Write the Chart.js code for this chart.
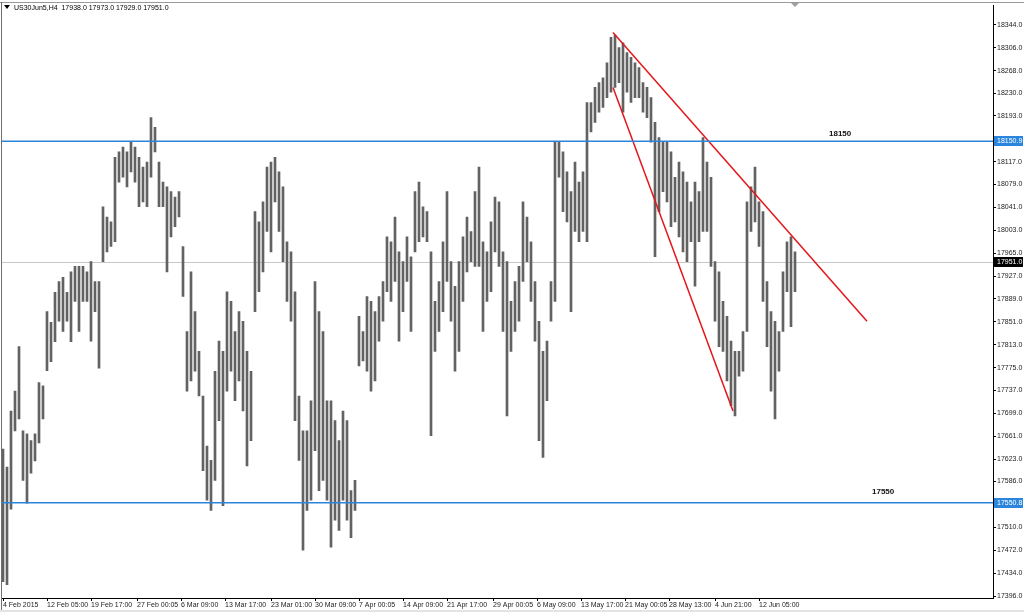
<!DOCTYPE html>
<html>
<head>
<meta charset="utf-8">
<script src="https://cdn.jsdelivr.net/npm/chart.js@4.4.1/dist/chart.umd.min.js"></script>
<style>
  html, body { margin: 0; padding: 0; background: #fff; }
  #wrap { width: 1024px; height: 612px; position: relative; }
</style>
</head>
<body>
<div id="wrap"><canvas id="priceChart" width="1024" height="612"></canvas></div>
<script>
"use strict";

// US30 H4 bars, high / low per bar
var highs = [
  17640, 17610, 17703, 17736, 17810, 17670, 17665, 17654, 17665, 17750,
  17745, 17868, 17850, 17900, 17918, 17925, 17900, 17934, 17943, 17943,
  17943, 17934, 17951, 17918, 17918, 18042, 18025, 18017, 18124, 18133,
  18141, 18133, 18149, 18141, 18124, 18108, 18116, 18190, 18174, 18116,
  18083, 18075, 18067, 18058, 18067, 17976, 17835, 17934, 17868, 17802,
  17728, 17645, 17621, 17769, 17819, 17802, 17901, 17885, 17835, 17868,
  17852, 17802, 17769, 18034, 18017, 18050, 18108, 18116, 18124, 18100,
  18075, 17984, 17967, 17901, 17728, 17670, 17670, 17720, 17918, 17868,
  17835, 17720, 17720, 17687, 17654, 17703, 17687, 17571, 17588, 17860,
  17835, 17893, 17885, 17868, 17893, 17918, 17992, 17984, 18025, 17967,
  17951, 17992, 17959, 18067, 18083, 18042, 18034, 17967, 17885, 17918,
  17984, 18067, 17951, 17910, 17951, 17992, 18025, 18001, 18067, 18108,
  17984, 17967, 18017, 18058, 18050, 17967, 17951, 17885, 17918, 17943,
  18050, 18025, 17984, 17918, 17852, 17802, 17819, 17918, 18149, 18149,
  18133, 18100, 18067, 18116, 18083, 18100, 18215, 18215, 18240, 18248,
  18256, 18281, 18323, 18327, 18306, 18314, 18298, 18290, 18281, 18273,
  18248, 18240, 18223, 18182, 18157, 18149, 18149, 18133, 18091, 18116,
  18100, 18083, 18050, 18083, 18067, 18157, 18116, 18091, 17951, 17934,
  17885, 17860, 17819, 17802, 17802, 17835, 18050, 18075, 18108, 18050,
  18034, 17918, 17868, 17852, 17835, 17934, 17984, 17992, 17967
];
var lows = [
  17420, 17415, 17540, 17670, 17690, 17588, 17550, 17600, 17620, 17650,
  17690, 17770, 17785, 17818, 17852, 17835, 17852, 17818, 17885, 17835,
  17885, 17885, 17819, 17868, 17774, 17951, 17967, 17976, 17984, 18083,
  18091, 18075, 18100, 18083, 18042, 18050, 18042, 18091, 18133, 18042,
  18042, 17934, 17992, 18009, 18025, 17893, 17736, 17753, 17769, 17728,
  17604, 17555, 17538, 17588, 17687, 17546, 17736, 17769, 17720, 17753,
  17703, 17612, 17654, 17868, 17901, 17934, 18001, 17967, 18050, 18001,
  17951, 17885, 17852, 17687, 17621, 17472, 17538, 17555, 17637, 17571,
  17588, 17555, 17477, 17522, 17505, 17555, 17522, 17493, 17538, 17778,
  17786, 17769, 17736, 17753, 17819, 17852, 17901, 17885, 17918, 17819,
  17868, 17918, 17835, 17967, 17984, 17992, 17984, 17662, 17802, 17835,
  17868, 17918, 17852, 17769, 17802, 17885, 17934, 17951, 17943, 17943,
  17835, 17885, 17901, 17967, 17943, 17835, 17695, 17802, 17835, 17852,
  17918, 17951, 17885, 17819, 17654, 17626, 17720, 17852, 17885, 18091,
  18034, 18017, 17868, 18001, 17984, 18001, 17984, 18166, 18182, 18199,
  18207, 18223, 18232, 18240, 18248, 18199, 18232, 18215, 18223, 18223,
  18199, 18190, 18149, 17959, 18034, 18067, 18050, 18009, 18017, 17992,
  17967, 17951, 17984, 17910, 17984, 18001, 18001, 17943, 17852, 17810,
  17802, 17753, 17712, 17695, 17761, 17769, 17835, 18001, 18017, 17976,
  17885, 17810, 17736, 17690, 17769, 17835, 17901, 17843, 17901
];

// time axis labels and the bar index they sit on
var xLabels = [ "4 Feb 2015", "12 Feb 05:00", "19 Feb 17:00", "27 Feb 00:05", "6 Mar 09:00",
  "13 Mar 17:00", "23 Mar 01:00", "30 Mar 09:00", "7 Apr 00:05", "14 Apr 09:00",
  "21 Apr 17:00", "29 Apr 00:05", "6 May 09:00", "13 May 17:00", "21 May 00:05",
  "28 May 13:00", "4 Jun 21:00", "12 Jun 05:00" ];
var xLabelIdx = [ 0, 11, 22, 33.5, 44.5, 55.5, 67, 78, 89, 100, 111, 122.5, 133.5, 144.5, 155.5, 166.5, 178, 189 ];

var yTicks = [ 18344, 18306, 18268, 18230, 18193, 18117, 18079, 18041, 18003, 17965, 17927,
  17889, 17851, 17813, 17775, 17737, 17699, 17661, 17623, 17586, 17510, 17472, 17434, 17396 ];

var lastQuote = [ 17938.0, 17973.0, 17929.0, 17951.0 ]; // O H L C
var resistance = 18150.9;
var support = 17550.8;
var upperTrend = [ { x: 152.5, y: 18331 }, { x: 216, y: 17852 } ];
var lowerTrend = [ { x: 152.5, y: 18240 }, { x: 182.5, y: 17703 } ];

var FONT = '"Liberation Sans", Arial, sans-serif';
var BLUE = '#2a86dc';

var mtOverlay = {
    id: 'mtOverlay',
    beforeDatasetsDraw: function ( chart ) {
        var c = chart.ctx, a = chart.chartArea, y = chart.scales.y;
        var py = Math.round( y.getPixelForValue( lastQuote[3] ) ) + 0.5;
        c.save();
        c.strokeStyle = '#c8c8c8';
        c.lineWidth = 1;
        c.beginPath(); c.moveTo( a.left, py ); c.lineTo( a.right, py ); c.stroke();
        c.restore();
    },
    afterDatasetsDraw: function ( chart ) {
        var c = chart.ctx, a = chart.chartArea, y = chart.scales.y;
        c.save();
        c.strokeStyle = BLUE;
        c.lineWidth = 1.5;
        [ resistance, support ].forEach( function ( v ) {
            var py = y.getPixelForValue( v );
            c.beginPath(); c.moveTo( a.left, py ); c.lineTo( a.right, py ); c.stroke();
        });
        c.fillStyle = '#111';
        c.font = 'bold 8px ' + FONT;
        c.textBaseline = 'middle';
        c.fillText( '18150', 829, y.getPixelForValue( resistance ) - 7 );
        c.fillText( '17550', 872, y.getPixelForValue( support ) - 11 );
        c.restore();
    },
    afterDraw: function ( chart ) {
        var c = chart.ctx, a = chart.chartArea, y = chart.scales.y;
        c.save();
        // price boxes on the axis
        c.font = '7px ' + FONT;
        c.textBaseline = 'middle';
        [ [ resistance, BLUE ], [ support, BLUE ], [ lastQuote[3], '#000' ] ].forEach( function ( b ) {
            var py = Math.round( y.getPixelForValue( b[0] ) );
            c.fillStyle = b[1];
            c.fillRect( a.right + 1, py - 5, 29, 10 );
            c.fillStyle = '#fff';
            c.fillText( b[0].toFixed( 1 ), a.right + 4, py );
        });
        // header
        c.fillStyle = '#000';
        c.beginPath(); c.moveTo( 4, 5 ); c.lineTo( 10, 5 ); c.lineTo( 7, 9 ); c.closePath(); c.fill();
        c.font = '7px ' + FONT;
        c.fillText( 'US30Jun5,H4  ' + lastQuote.map( function ( v ) { return v.toFixed( 1 ); } ).join( ' ' ), 14, 8 );
        // shift marker
        c.fillStyle = '#a0a0a0';
        c.beginPath(); c.moveTo( 791, 3 ); c.lineTo( 799, 3 ); c.lineTo( 795, 7 ); c.closePath(); c.fill();
        // window frame
        c.strokeStyle = '#9a9a9a';
        c.lineWidth = 1;
        c.beginPath(); c.moveTo( 0, 2.5 ); c.lineTo( 1024, 2.5 ); c.stroke();
        c.strokeStyle = '#707070';
        c.beginPath(); c.moveTo( 1.5, 2 ); c.lineTo( 1.5, 612 ); c.stroke();
        c.fillStyle = '#e4e4e4';
        c.fillRect( 0, 610, 1024, 2 );
        c.restore();
    }
};

var ctx = document.getElementById( "priceChart" );
var priceChart = new Chart( ctx, {
    type: 'bar',
    data: {
        datasets: [
            {
                type: 'line',
                data: upperTrend,
                borderColor: '#e3171b',
                borderWidth: 1.5,
                pointRadius: 0,
                order: 0
            },
            {
                type: 'line',
                data: lowerTrend,
                borderColor: '#e3171b',
                borderWidth: 1.5,
                pointRadius: 0,
                order: 0
            },
            {
                type: 'bar',
                data: highs.map( function ( h, i ) { return { x: i, y: [ lows[i], h ] }; } ),
                backgroundColor: '#626262',
                barThickness: 2,
                order: 1
            }
        ]
    },
    options: {
        responsive: false,
        animation: false,
        devicePixelRatio: 1,
        layout: { padding: { top: 3, left: 2, right: 0, bottom: 0 } },
        plugins: {
            legend: { display: false },
            tooltip: { enabled: false }
        },
        scales: {
            x: {
                type: 'linear',
                position: 'bottom',
                offset: false,
                min: -0.25,
                max: 247.5,
                afterBuildTicks: function ( s ) { s.ticks = xLabelIdx.map( function ( v ) { return { value: v }; } ); },
                afterFit: function ( s ) { s.height = 14; },
                grid: { offset: false, drawOnChartArea: false, drawTicks: true, tickLength: 3, color: '#000' },
                border: { display: true, color: '#000' },
                ticks: {
                    autoSkip: false,
                    maxRotation: 0,
                    align: 'start',
                    padding: 0,
                    color: '#222',
                    font: { family: FONT, size: 7 },
                    callback: function ( v, i ) { return xLabels[i]; }
                }
            },
            y: {
                type: 'linear',
                position: 'right',
                min: 17392.7,
                max: 18376.5,
                afterBuildTicks: function ( s ) { s.ticks = yTicks.map( function ( v ) { return { value: v }; } ); },
                afterFit: function ( s ) { s.width = 31; },
                grid: { drawOnChartArea: false, drawTicks: true, tickLength: 3, color: '#000' },
                border: { display: true, color: '#000' },
                ticks: {
                    autoSkip: false,
                    padding: 1,
                    color: '#222',
                    font: { family: FONT, size: 7 },
                    callback: function ( v ) { return v.toFixed( 1 ); }
                }
            }
        }
    },
    plugins: [ mtOverlay ]
});
</script>
</body>
</html>
